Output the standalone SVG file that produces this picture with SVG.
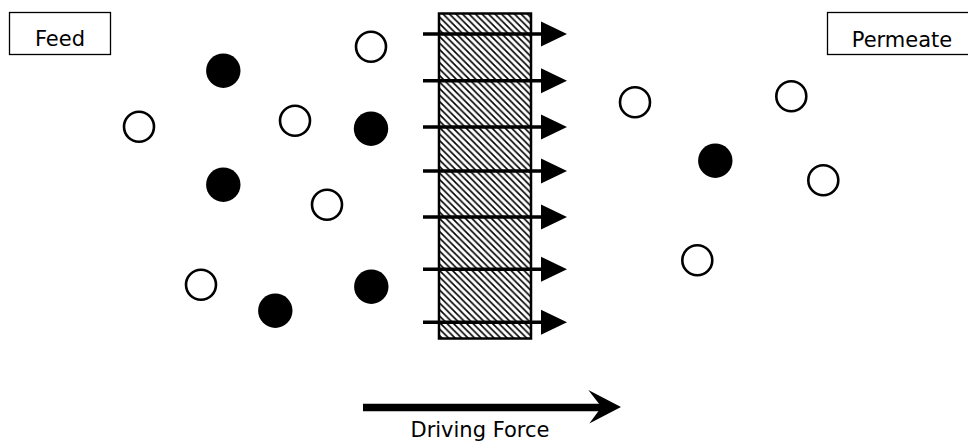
<svg xmlns="http://www.w3.org/2000/svg" width="968" height="444" viewBox="0 0 968 444">
<style>
.box{fill:#fff;stroke:#000;stroke-width:1.3}
.lbl{font-family:"DejaVu Sans",Verdana,sans-serif;font-size:21px;fill:#000;text-anchor:middle}
.open{fill:#fff;stroke:#000;stroke-width:2.6}
.solid{fill:#000}
.flow{stroke:#000;stroke-width:3.5;fill:none}
.head{fill:#000}
</style>
<defs>
<pattern id="hatch" patternUnits="userSpaceOnUse" width="6.5" height="6.5">
<rect width="6.5" height="6.5" fill="#fff"/>
<path d="M-1.625,1.625 L1.625,-1.625 M0,6.5 L6.5,0 M4.875,8.125 L8.125,4.875" stroke="#000" stroke-width="1.6" transform="scale(-1,1) translate(-6.5,0)"/>
</pattern>
</defs>
<g id="feed"><rect class="box" x="9.5" y="12.5" width="101" height="42"/><text class="lbl" x="60" y="46">Feed</text></g>
<g id="permeate"><rect class="box" x="827.5" y="12.5" width="150" height="42"/><text class="lbl" x="902" y="46.5">Permeate</text></g>
<g id="membrane"><rect x="439" y="13.5" width="92" height="325" fill="url(#hatch)" stroke="#000" stroke-width="2.5"/></g>
<g id="feed-particles">
<circle class="solid" cx="223.3" cy="70.7" r="17.2"/>
<circle class="open" cx="371" cy="46.7" r="15"/>
<circle class="open" cx="139" cy="126.7" r="15"/>
<circle class="open" cx="295" cy="120.7" r="15"/>
<circle class="solid" cx="371" cy="128.7" r="17.2"/>
<circle class="solid" cx="223.3" cy="184.7" r="17.2"/>
<circle class="open" cx="327" cy="204.7" r="15"/>
<circle class="open" cx="201" cy="284.7" r="15"/>
<circle class="solid" cx="275.3" cy="310.7" r="17.2"/>
<circle class="solid" cx="371.3" cy="286.7" r="17.2"/>
</g>
<g id="permeate-particles">
<circle class="open" cx="635" cy="102.3" r="15"/>
<circle class="open" cx="791.3" cy="96.3" r="15"/>
<circle class="solid" cx="715.3" cy="160.7" r="17.2"/>
<circle class="open" cx="823.3" cy="180.3" r="15"/>
<circle class="open" cx="697.3" cy="260.3" r="15"/>
</g>
<g id="connectors">
<g id="flow-arrows">
<path class="flow" d="M423,34H542 M423,80.7H542 M423,127H542 M423,171H542 M423,217H542 M423,269.3H542 M423,322.3H542"/>
<path class="head" d="M541,21.5L567,34L541,46.5Z M541,68.2L567,80.7L541,93.2Z M541,114.5L567,127L541,139.5Z M541,158.5L567,171L541,183.5Z M541,204.5L567,217L541,229.5Z M541,256.8L567,269.3L541,281.8Z M541,309.8L567,322.3L541,334.8Z"/>
</g>
<g id="driving-force">
<path d="M363,407.5H603" stroke="#000" stroke-width="7.5" fill="none"/>
<path class="head" d="M621,407 L588.3,390 L601.5,407 L589.3,423.5 Z"/>
</g>
</g>
<text class="lbl" x="480" y="437">Driving Force</text>
</svg>
